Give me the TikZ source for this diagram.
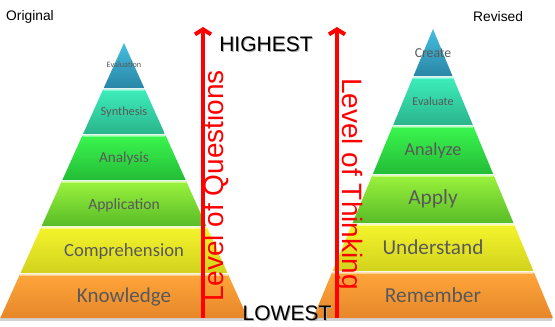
\documentclass[tikz,border=0pt]{standalone}
\usepackage{fontspec}
\setmainfont{Liberation Sans}
\newfontfamily\calfont{Carlito}
\usetikzlibrary{arrows.meta}
\definecolor{txtgray}{HTML}{595959}
\definecolor{bluet}{HTML}{45BEE0}\definecolor{blueb}{HTML}{2A86A6}
\definecolor{tealt}{HTML}{3DEDBA}\definecolor{tealb}{HTML}{2AB48C}
\definecolor{greent}{HTML}{3AF64E}\definecolor{greenb}{HTML}{24BC36}
\definecolor{limet}{HTML}{9AF23C}\definecolor{limeb}{HTML}{58BC28}
\definecolor{yelt}{HTML}{F4F42C}\definecolor{yelb}{HTML}{D2D21E}
\definecolor{orat}{HTML}{FFA63A}\definecolor{orab}{HTML}{E6862A}
\definecolor{bluehl}{HTML}{7AD8F0}\definecolor{tealhl}{HTML}{7AF8D8}
\definecolor{greenhl}{HTML}{80FF90}\definecolor{limehl}{HTML}{C8FF80}
\definecolor{yelhl}{HTML}{FFFF90}\definecolor{orahl}{HTML}{FFD090}
\tikzset{
  lvl/.style={text=txtgray, font=\calfont, inner sep=0pt, anchor=base},
  redarrow/.style={draw=red, line width=4pt, -{Straight Barb[length=5pt,width=16pt,line width=4pt]}},
  axislbl/.style={text=red, font=\fontsize{28}{28}\selectfont, inner sep=0pt, anchor=base},
  endlbl/.style={text=black, font=\fontsize{21}{21}\selectfont, inner sep=0pt},
  cornerlbl/.style={text=black, font=\fontsize{13.8}{14}\selectfont, inner sep=0pt, anchor=west},
}
\begin{document}
\begin{tikzpicture}[x=1pt,y=-1pt]
\useasboundingbox (0,0) rectangle (555,327);
% base shadows
\fill[gray!35] (0,318) rectangle (248,321);
\fill[gray!35] (313,318) rectangle (552,321);
% left pyramid: apex (124,43), slope 0.45
\foreach \yt/\yb/\c/\lab/\fs/\yl [count=\i] in {
  43/88/blue/Evaluation/8.2/67.5,
  88/134/teal/Synthesis/12.3/115,
  134/180/green/Analysis/15.2/162,
  180/226/lime/Application/15.6/209,
  226/273/yel/Comprehension/18.6/256,
  273/318/ora/Knowledge/21/302}{
  \pgfmathsetmacro\ytt{\i==1 ? \yt : \yt+1.5}
  \pgfmathsetmacro\xtl{124-0.45*(\ytt-43)}
  \pgfmathsetmacro\xtr{124+0.45*(\ytt-43)}
  \pgfmathsetmacro\xbl{124-0.45*(\yb-43)}
  \pgfmathsetmacro\xbr{124+0.45*(\yb-43)}
  \shade[top color=\c t, bottom color=\c b] (\xtl,\ytt) -- (\xtr,\ytt) -- (\xbr,\yb) -- (\xbl,\yb) -- cycle;
  \ifnum\i>1
    \draw[\c hl, line width=1.2pt] (\xtl+0.6,\ytt+0.6) -- (\xtr-0.6,\ytt+0.6);
  \fi
  \node[lvl, font=\calfont\fontsize{\fs}{\fs}\selectfont] (l\i) at (124,\yl) {\lab};
}
% right pyramid: apex (433,29), slope 0.415
\foreach \yt/\yb/\c/\lab/\fs/\yl [count=\i] in {
  29/76/blue/Create/13.7/57,
  76/125/teal/Evaluate/12/105,
  125/174/green/Analyze/18.2/155.5,
  174/223/lime/Apply/21.4/204,
  223/271/yel/Understand/21.2/254,
  271/318/ora/Remember/21.4/302}{
  \pgfmathsetmacro\ytt{\i==1 ? \yt : \yt+1.5}
  \pgfmathsetmacro\xtl{433-0.415*(\ytt-29)}
  \pgfmathsetmacro\xtr{433+0.415*(\ytt-29)}
  \pgfmathsetmacro\xbl{433-0.415*(\yb-29)}
  \pgfmathsetmacro\xbr{433+0.415*(\yb-29)}
  \shade[top color=\c t, bottom color=\c b] (\xtl,\ytt) -- (\xtr,\ytt) -- (\xbr,\yb) -- (\xbl,\yb) -- cycle;
  \ifnum\i>1
    \draw[\c hl, line width=1.2pt] (\xtl+0.6,\ytt+0.6) -- (\xtr-0.6,\ytt+0.6);
  \fi
  \node[lvl, font=\calfont\fontsize{\fs}{\fs}\selectfont] (r\i) at (433,\yl) {\lab};
}
% corner labels
\node[cornerlbl] (orig) at (6,17) {Original};
\node[cornerlbl] (rev) at (473,17) {Revised};
% arrows
\coordinate (qbot) at (203,318);
\coordinate (qtop) at (203,27);
\coordinate (tbot) at (337,318);
\coordinate (ttop) at (337,27);
\draw[redarrow] (qbot) -- (qtop);
\draw[redarrow] (tbot) -- (ttop);
% axis labels
\node[axislbl, rotate=90] (lq) at (223.5,186) {Level of Questions};
\node[axislbl, rotate=-90] (lt) at (342.5,184) {Level of Thinking};
% ends
\node[endlbl, text=gray!60] at (267,45) {HIGHEST};
\node[endlbl] (hi) at (266,44) {HIGHEST};
\node[endlbl, text=gray!60] at (288,314) {LOWEST};
\node[endlbl] (lo) at (287,313) {LOWEST};
\end{tikzpicture}
\end{document}
